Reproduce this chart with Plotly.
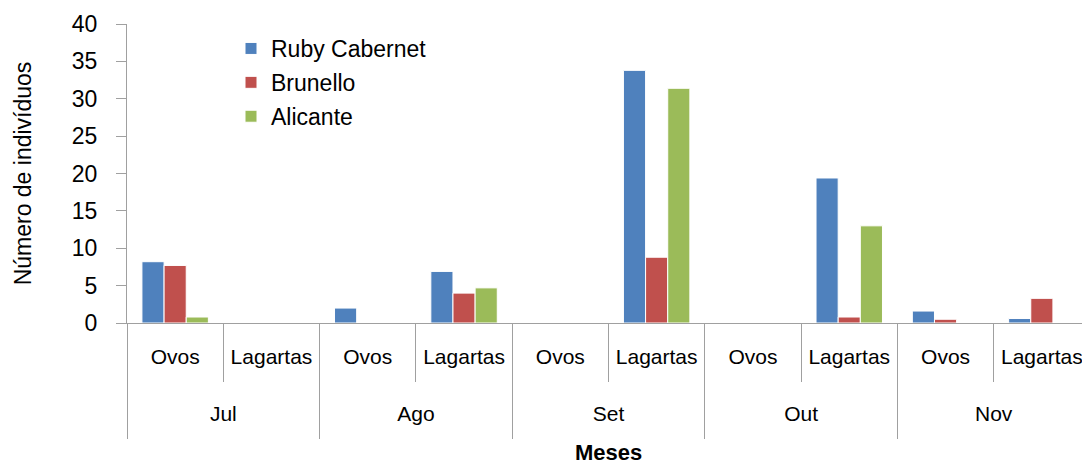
import plotly.graph_objects as go

months = ["Jul", "Ago", "Set", "Out", "Nov"]
stages = ["Ovos", "Lagartas"]
ruby = [8.2, 0, 2.0, 6.9, 0, 33.8, 0, 19.4, 1.6, 0.6]
brunello = [7.7, 0, 0, 4.0, 0, 8.8, 0, 0.8, 0.5, 3.3]
alicante = [0.8, 0, 0, 4.7, 0, 31.4, 0, 13.0, 0, 0]
series = [("Ruby Cabernet", ruby, "#4F81BD"),
          ("Brunello", brunello, "#C0504D"),
          ("Alicante", alicante, "#9BBB59")]
y_ticks = [0, 5, 10, 15, 20, 25, 30, 35, 40]

n = len(months) * len(stages)
xpos = list(range(n))
sub_labels = [s for _ in months for s in stages]
month_pos = [i * len(stages) + (len(stages) - 1) / 2 for i in range(len(months))]
xr = [-0.5, n - 0.5]

fig = go.Figure()
for name, vals, col in series:
    fig.add_trace(go.Bar(x=xpos, y=vals, name=name, legendgroup=name,
                         marker=dict(color=col, line=dict(color="white", width=1))))

font = "Liberation Sans, Arial, sans-serif"
axc = "#A0A0A0"
fig.update_layout(
    width=1090, height=463,
    margin=dict(l=119, r=8, t=16, b=148, autoexpand=False),
    paper_bgcolor="white", plot_bgcolor="white",
    barmode="group", bargap=0.31, bargroupgap=0,
    font=dict(family=font, color="black"),
    showlegend=True,
    legend=dict(x=0.108, y=0.99, xanchor="left", yanchor="top",
                font=dict(family=font, size=23),
                bgcolor="rgba(0,0,0,0)", tracegroupgap=1, itemwidth=30),
    xaxis=dict(range=xr, tickmode="array", tickvals=xpos, ticktext=sub_labels,
               showline=True, linecolor=axc, linewidth=1, ticks="", automargin=False,
               ticklabelstandoff=15, tickfont=dict(size=21, family=font),
               minor=dict(tickmode="array", tickvals=[i - 0.5 for i in range(n + 1)],
                          ticks="outside", ticklen=58, tickcolor=axc, showgrid=False),
               showgrid=False, zeroline=False),
    xaxis2=dict(range=xr, overlaying="x", anchor="y", side="bottom", tickmode="array",
                tickvals=month_pos, ticktext=months, ticks="", showline=False,
                automargin=False, ticklabelstandoff=76, tickfont=dict(size=21, family=font),
                minor=dict(tickmode="array",
                           tickvals=[i * len(stages) - 0.5 for i in range(len(months) + 1)],
                           ticks="outside", ticklen=115, tickcolor=axc, showgrid=False),
                showgrid=False, zeroline=False),
    yaxis=dict(range=[0, 40], tickmode="array", tickvals=y_ticks, showline=True, linecolor=axc,
               ticks="outside", ticklen=10, tickcolor=axc, showgrid=False, automargin=False,
               zeroline=False, tickfont=dict(size=23, family=font), ticklabelstandoff=14,
               title=dict(text="Número de indivíduos", font=dict(size=23, family=font), standoff=33)),
    annotations=[dict(text="<b>Meses</b>", xref="paper", yref="paper", x=0.5, y=-0.385,
                      xanchor="center", yanchor="top", showarrow=False,
                      font=dict(size=22, family=font, color="black"))],
)
# invisible trace to activate xaxis2
fig.add_trace(go.Scatter(x=[xr[0]], y=[0], xaxis="x2", mode="markers",
                         marker=dict(opacity=0), showlegend=False, hoverinfo="skip"))
fig.write_html("out.html")
